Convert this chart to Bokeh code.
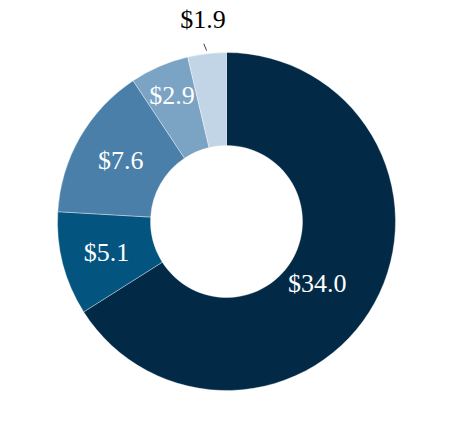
import math
from bokeh.plotting import figure
from bokeh.models import ColumnDataSource, Range1d
from bokeh.core.properties import value
from bokeh.embed import file_html
from bokeh.resources import INLINE

labels = ["$34.0", "$5.1", "$7.6", "$2.9", "$1.9"]
values = [34.0, 5.1, 7.6, 2.9, 1.9]
colors = ["#022a46", "#03557f", "#497fa8", "#7ba3c3", "#c2d5e7"]
text_colors = ["white", "white", "white", "white", "black"]

W, H = 446, 432
cx, cy = 226, H - 221
r_in, r_out = 76, 169

total = sum(values)
starts, ends, lx, ly, mids = [], [], [], [], []
acc = 0.0
for v in values:
    a0 = math.pi / 2 - acc / total * 2 * math.pi
    acc += v
    a1 = math.pi / 2 - acc / total * 2 * math.pi
    starts.append(a0)
    ends.append(a1)
    mids.append((a0 + a1) / 2)

# label placement style (radius and angular nudge, degrees clockwise)
label_r = [110, 124, 122, 137, 203]
label_da = [5.5, 0, 0, 0, 0]
for m, rr, da in zip(mids, label_r, label_da):
    a = m - math.radians(da)
    lx.append(cx + rr * math.cos(a))
    ly.append(cy + rr * math.sin(a))

src = ColumnDataSource(dict(start=starts, end=ends, color=colors))
lsrc = ColumnDataSource(dict(x=lx, y=ly, text=labels, tc=text_colors))

p = figure(width=W, height=H, output_backend="svg", toolbar_location=None,
           x_range=Range1d(0, W), y_range=Range1d(0, H), min_border=0)
p.axis.visible = False
p.grid.visible = False
p.outline_line_color = None
p.background_fill_color = "white"

p.annular_wedge(x=cx, y=cy, inner_radius=r_in, outer_radius=r_out,
                start_angle="start", end_angle="end", direction="clock",
                fill_color="color", line_color="white", line_width=0.6,
                line_alpha=0.6, source=src)

# leader line for the small slice
m = mids[-1]
p.line(x=[cx + 172 * math.cos(m), cx + 179 * math.cos(m) - 2],
       y=[cy + 172 * math.sin(m), cy + 179 * math.sin(m)],
       line_color="#444444", line_width=1)

p.text(x="x", y="y", text="text", text_color="tc", source=lsrc,
       text_align="center", text_baseline="middle",
       text_font=value("Liberation Serif, Times New Roman, serif"),
       text_font_size="26px")

open("out.html", "w").write(file_html(p, INLINE))
